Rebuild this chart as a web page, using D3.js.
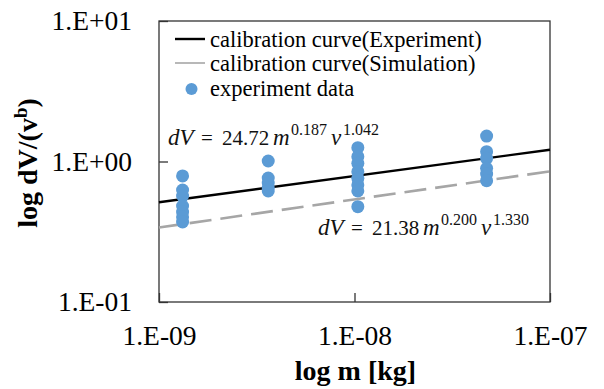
<!DOCTYPE html>
<html>
<head>
<meta charset="utf-8">
<script src="https://cdn.jsdelivr.net/npm/d3@7"></script>
<style>
  body { margin: 0; background: #fff; }
  svg text { font-family: "Liberation Serif", "Times New Roman", serif; }
</style>
</head>
<body>
<div id="place"></div>
<script>
// tick values / labels
const xTicks = [1e-9, 1e-8, 1e-7];
const xTickLabels = ["1.E-09", "1.E-08", "1.E-07"];
const yTicks = [0.1, 1, 10];
const yTickLabels = ["1.E-01", "1.E+00", "1.E+01"];

const massCols = [1.32e-9, 3.62e-9, 1.04e-8, 4.74e-8];
const col1 = [0.789, 0.627, 0.568, 0.482, 0.437, 0.403, 0.371];
const col2 = [1.008, 0.763, 0.703, 0.648, 0.617];
const col3 = [1.254, 1.082, 0.971, 0.846, 0.759, 0.681, 0.617, 0.477];
const col4 = [1.518, 1.174, 1.054, 0.895, 0.815, 0.730];

// calibration curves (end points at the edges of the plot)
const expCurve = [[1e-9, 0.513], [1e-7, 1.213]];
const simCurve = [[1e-9, 0.339], [1e-7, 0.851]];

const legendLabels = ["calibration curve(Experiment)", "calibration curve(Simulation)", "experiment data"];

// equation labels: [coef, exponent of m, exponent of v]
const eqExp = ["24.72", "0.187", "1.042"];
const eqSim = ["21.38", "0.200", "1.330"];

const W = 604, H = 389;
const margin = { top: 21, right: 54, bottom: 87, left: 159 };

let svg = d3.select("#place").append("svg")
    .attr("width", W)
    .attr("height", H);

let x = d3.scaleLog().domain([1e-9, 1e-7]).range([margin.left, W - margin.right]);
let y = d3.scaleLog().domain([0.1, 10]).range([H - margin.bottom, margin.top]);

const blue = "#5b9bd5";

// frame
svg.append("rect")
    .attr("x", x.range()[0]).attr("y", y.range()[1])
    .attr("width", x.range()[1] - x.range()[0])
    .attr("height", y.range()[0] - y.range()[1])
    .attr("fill", "none").attr("stroke", "#333").attr("stroke-width", 1.3);

// axes
let xAxis = svg.append("g")
    .attr("transform", "translate(0," + y.range()[0] + ")")
    .call(d3.axisBottom(x).tickValues(xTicks)
        .tickFormat((d, i) => xTickLabels[i])
        .tickSizeInner(-9).tickSizeOuter(0).tickPadding(23.5));
let yAxis = svg.append("g")
    .attr("transform", "translate(" + x.range()[0] + ",0)")
    .call(d3.axisLeft(y).tickValues(yTicks)
        .tickFormat((d, i) => yTickLabels[i])
        .tickSizeInner(-9).tickSizeOuter(0).tickPadding(27));

[xAxis, yAxis].forEach(a => {
    a.attr("font-family", null).attr("font-size", null);
    a.select(".domain").remove();
    a.selectAll(".tick line").attr("stroke", "#333").attr("stroke-width", 1.3);
    a.selectAll(".tick text")
        .attr("fill", "#000")
        .style("font-size", "27.5px");
});

// curves
let line = d3.line().x(d => x(d[0])).y(d => y(d[1]));
svg.append("path").datum(simCurve)
    .attr("d", line)
    .attr("fill", "none").attr("stroke", "#a6a6a6")
    .attr("stroke-width", 2.6).attr("stroke-dasharray", "22,9");
svg.append("path").datum(expCurve)
    .attr("d", line)
    .attr("fill", "none").attr("stroke", "#000")
    .attr("stroke-width", 2.4);

// points
let pts = [];
[col1, col2, col3, col4].forEach((col, i) => col.forEach(v => pts.push([massCols[i], v])));
svg.append("g").selectAll("circle")
    .data(pts)
    .join("circle")
    .attr("cx", d => x(d[0]))
    .attr("cy", d => y(d[1]))
    .attr("r", 6.5)
    .attr("fill", blue);

// equations (pieces placed one after the other, like the math font spacing)
function equation(px, py, eq) {
    let g = svg.append("g").attr("transform", "translate(" + px + "," + py + ")");
    const parts = [
        { t: "dV", dx: 0, it: true, sup: false },
        { t: "=", dx: 33, it: false, sup: false },
        { t: eq[0], dx: 54, it: false, sup: false },
        { t: "m", dx: 105, it: true, sup: false },
        { t: eq[1], dx: 123, it: false, sup: true },
        { t: "v", dx: 163, it: true, sup: false },
        { t: eq[2], dx: 175, it: false, sup: true }
    ];
    g.selectAll("text").data(parts).join("text")
        .attr("x", d => d.dx)
        .attr("y", d => d.sup ? -10.5 : 0)
        .style("font-size", d => d.sup ? "16px" : (d.it ? "23px" : "21px"))
        .style("font-style", d => d.it ? "italic" : "normal")
        .attr("fill", "#111")
        .text(d => d.t);
}
equation(168, 145, eqExp);
equation(318, 235, eqSim);

// legend
let leg = svg.append("g");
const rows = [47, 71, 96];
leg.append("line").attr("x1", 175).attr("x2", 205).attr("y1", 39).attr("y2", 39)
    .attr("stroke", "#000").attr("stroke-width", 2.4);
leg.append("line").attr("x1", 175).attr("x2", 205).attr("y1", 63).attr("y2", 63)
    .attr("stroke", "#a6a6a6").attr("stroke-width", 1.6);
leg.append("circle").attr("cx", 191.5).attr("cy", 89).attr("r", 6).attr("fill", blue);
leg.selectAll("text")
    .data(legendLabels)
    .join("text")
    .attr("x", 210)
    .attr("y", (d, i) => rows[i])
    .style("font-size", "22.5px")
    .text(d => d);

// axis titles
svg.append("text")
    .attr("x", (x.range()[0] + x.range()[1]) / 2 + 1)
    .attr("y", 380)
    .attr("text-anchor", "middle")
    .style("font-size", "28px").style("font-weight", "bold")
    .text("log m [kg]");

let yt = svg.append("text")
    .attr("transform", "translate(37,163) rotate(-90)")
    .attr("text-anchor", "middle")
    .style("font-size", "28px").style("font-weight", "bold");
yt.append("tspan").text("log dV/(v");
yt.append("tspan").attr("dy", -10).style("font-size", "19px").text("b");
yt.append("tspan").attr("dy", 10).text(")");
</script>
</body>
</html>
